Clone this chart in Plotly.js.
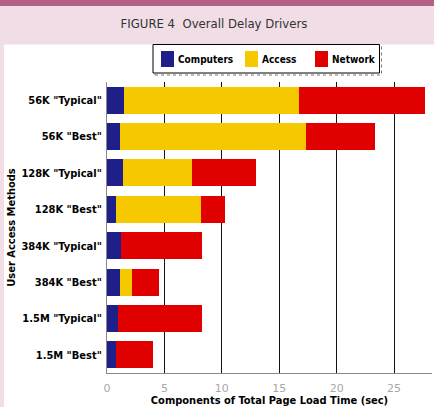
<!DOCTYPE html>
<html>
<head>
<meta charset="utf-8">
<script src="https://cdn.plot.ly/plotly-3.0.1.min.js"></script>
<style>
  html, body { margin: 0; padding: 0; background: #f0dde5; }
  #chart { width: 434px; height: 407px; }
</style>
</head>
<body>
<div id="chart"></div>
<script>
// Access methods, listed top to bottom
const methods = [
  '56K "Typical"', '56K "Best"',
  '128K "Typical"', '128K "Best"',
  '384K "Typical"', '384K "Best"',
  '1.5M "Typical"', '1.5M "Best"'
];

// Delay components in seconds (stacked)
const seriesNames = ['Computers', 'Access', 'Network'];
const computers = [1.5, 1.15, 1.35, 0.8, 1.2, 1.15, 0.95, 0.75];
const access    = [15.2, 16.2, 6.05, 7.4, 0, 1.05, 0, 0];
const network   = [11.0, 5.95, 5.6, 2.1, 7.1, 2.3, 7.35, 3.25];
const seriesColors = ['#1f1f8a', '#f5c800', '#e00000'];

const xTicks = [0, 5, 10, 15, 20, 25];

const narrow = 'DejaVu Sans Condensed, sans-serif';

// Page geometry (pixels) and helpers to turn it into paper coordinates
const W = 434, H = 407;
const M = { l: 107, r: 2, t: 82, b: 34 };
const plotW = W - M.l - M.r, plotH = H - M.t - M.b;
const px = x => (x - M.l) / plotW;
const py = y => (H - M.b - y) / plotH;

const data = [computers, access, network].map((vals, i) => ({
  type: 'bar',
  orientation: 'h',
  name: seriesNames[i],
  y: methods,
  x: vals,
  marker: { color: seriesColors[i], line: { width: 0 } },
  hoverinfo: 'x+y+name'
}));

// Hand-built legend box: swatch + label per series
const legendItems = [
  { sx: 161, tx: 176 },
  { sx: 245, tx: 260 },
  { sx: 315, tx: 330 }
];

const shapes = [
  // white panel behind the chart
  { type: 'rect', xref: 'paper', yref: 'paper', layer: 'below',
    x0: px(4), x1: px(436), y0: py(409), y1: py(44.5),
    fillcolor: '#ffffff', line: { width: 0 } },
  // header band
  { type: 'rect', xref: 'paper', yref: 'paper', layer: 'below',
    x0: px(-2), x1: px(436), y0: py(6), y1: py(-2),
    fillcolor: '#b35f85', line: { width: 0 } },
  // legend drop shadow
  { type: 'rect', xref: 'paper', yref: 'paper', layer: 'above',
    x0: px(155), x1: px(381.5), y0: py(75), y1: py(46),
    fillcolor: 'rgba(0,0,0,0)', line: { color: '#777', width: 1, dash: 'dot' } },
  // legend frame
  { type: 'rect', xref: 'paper', yref: 'paper', layer: 'above',
    x0: px(153), x1: px(379.5), y0: py(73), y1: py(44.5),
    fillcolor: '#ffffff', line: { color: '#000', width: 1 } }
];
const annotations = [];
legendItems.forEach((it, i) => {
  shapes.push({ type: 'rect', xref: 'paper', yref: 'paper', layer: 'above',
    x0: px(it.sx), x1: px(it.sx + 13), y0: py(67), y1: py(51),
    fillcolor: seriesColors[i], line: { width: 0 } });
  annotations.push({ xref: 'paper', yref: 'paper', x: px(it.tx), y: py(59.5),
    xanchor: 'left', yanchor: 'middle', showarrow: false,
    text: seriesNames[i],
    font: { family: narrow, size: 10, color: '#000', weight: 'bold' } });
});

const layout = {
  width: W,
  height: H,
  paper_bgcolor: '#f0dde5',
  plot_bgcolor: 'rgba(0,0,0,0)',
  margin: { l: M.l, r: M.r, t: M.t, b: M.b, autoexpand: false },
  barmode: 'stack',
  bargap: 0.26,
  showlegend: false,
  title: {
    text: 'FIGURE 4  Overall Delay Drivers',
    x: 0.493, xanchor: 'center',
    y: 0.943, yanchor: 'middle',
    font: { family: 'DejaVu Sans Condensed, sans-serif', size: 13, color: '#333333' }
  },
  xaxis: {
    range: [0, 28.3],
    tickvals: xTicks,
    ticktext: xTicks.map(String),
    showgrid: true,
    gridcolor: '#111111',
    gridwidth: 1,
    zeroline: false,
    showline: true,
    linecolor: '#888888',
    linewidth: 1,
    ticks: '',
    ticklabelstandoff: 5,
    tickfont: { family: 'DejaVu Sans, sans-serif', size: 11, color: '#a8a8a8' },
    title: {
      text: 'Components of Total Page Load Time (sec)',
      standoff: 1,
      font: { family: narrow, size: 11, color: '#000', weight: 'bold' }
    },
    fixedrange: true
  },
  yaxis: {
    type: 'category',
    categoryorder: 'array',
    categoryarray: methods.slice().reverse(),
    showgrid: false,
    zeroline: false,
    showline: true,
    linecolor: '#888888',
    linewidth: 1,
    ticks: '',
    ticklabelstandoff: 2,
    tickfont: { family: narrow, size: 11, color: '#000', weight: 'bold' },
    title: {
      text: 'User Access Methods',
      standoff: 3,
      font: { family: narrow, size: 11, color: '#000', weight: 'bold' }
    },
    fixedrange: true
  },
  shapes: shapes,
  annotations: annotations
};

Plotly.newPlot('chart', data, layout, { displayModeBar: false, staticPlot: true });
</script>
</body>
</html>
